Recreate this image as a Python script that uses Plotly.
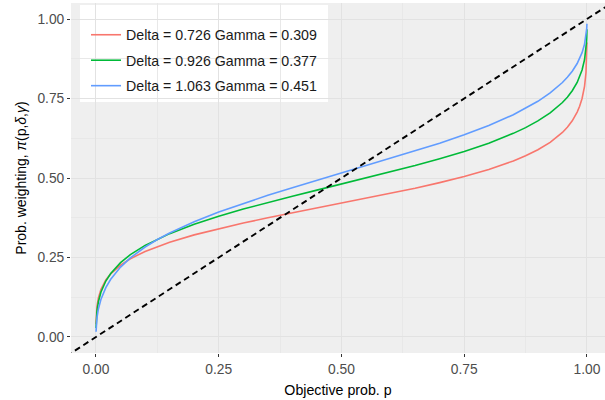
import plotly.graph_objects as go

# Objective probabilities (x) at which the curves were read
p = [0.0001, 0.0005, 0.001, 0.002, 0.005, 0.01, 0.02, 0.03, 0.05, 0.07, 0.1, 0.125,
     0.15, 0.2, 0.25, 0.3, 0.35, 0.4, 0.45, 0.5, 0.55, 0.6, 0.65, 0.7, 0.75, 0.8,
     0.85, 0.875, 0.9, 0.925, 0.95, 0.96, 0.97, 0.98, 0.985, 0.99, 0.995, 0.998,
     0.999, 0.9995, 0.9999]

# Weighted probabilities
w_red = [0.0405, 0.0648, 0.0791, 0.0962, 0.1239, 0.1493, 0.1790, 0.1987, 0.2262,
         0.2461, 0.2691, 0.2847, 0.2981, 0.3211, 0.3408, 0.3584, 0.3748, 0.3904,
         0.4056, 0.4206, 0.4358, 0.4514, 0.4678, 0.4854, 0.5048, 0.5270, 0.5537,
         0.5699, 0.5887, 0.6121, 0.6433, 0.6597, 0.6800, 0.7073, 0.7257, 0.7502,
         0.7884, 0.8319, 0.8598, 0.8837, 0.9259]
w_green = [0.0279, 0.0501, 0.0641, 0.0817, 0.1118, 0.1407, 0.1759, 0.1998, 0.2338,
           0.2588, 0.2880, 0.3078, 0.3250, 0.3545, 0.3797, 0.4022, 0.4231, 0.4428,
           0.4619, 0.4808, 0.4997, 0.5190, 0.5391, 0.5604, 0.5835, 0.6096, 0.6404,
           0.6585, 0.6795, 0.7048, 0.7375, 0.7542, 0.7745, 0.8006, 0.8177, 0.8397,
           0.8720, 0.9060, 0.9260, 0.9421, 0.9676]
w_blue = [0.0164, 0.0334, 0.0450, 0.0606, 0.0890, 0.1180, 0.1552, 0.1815, 0.2198,
          0.2487, 0.2830, 0.3065, 0.3271, 0.3626, 0.3931, 0.4205, 0.4457, 0.4696,
          0.4927, 0.5153, 0.5379, 0.5607, 0.5843, 0.6090, 0.6357, 0.6652, 0.6991,
          0.7189, 0.7412, 0.7675, 0.8004, 0.8167, 0.8360, 0.8601, 0.8753, 0.8941,
          0.9205, 0.9460, 0.9599, 0.9704, 0.9854]

series_names = ["Delta = 0.726 Gamma = 0.309",
                "Delta = 0.926 Gamma = 0.377",
                "Delta = 1.063 Gamma = 0.451"]
series_values = [w_red, w_green, w_blue]
colors = ["#F8766D", "#00BA38", "#619CFF"]

diag = [-0.06, 1.06]
tick_vals = [0, 0.25, 0.5, 0.75, 1.0]
tick_text = ["0.00", "0.25", "0.50", "0.75", "1.00"]
minor_vals = [0.125, 0.375, 0.625, 0.875]

FONT = "Liberation Sans, Arial, sans-serif"

fig = go.Figure()
for name, vals, col in zip(series_names, series_values, colors):
    fig.add_trace(go.Scatter(x=p, y=vals, mode="lines", name=name,
                             legendgroup=name,
                             line=dict(color=col, width=1.6)))
fig.add_trace(go.Scatter(x=diag, y=diag, mode="lines", showlegend=False,
                         line=dict(color="black", width=1.9, dash="6px,4px")))

# white legend box
fig.add_shape(type="rect", xref="paper", yref="paper",
              x0=(80 - 71) / 534, x1=(328 - 71) / 534,
              y0=(352.7 - 102) / 349.7, y1=(352.7 - 5) / 349.7,
              fillcolor="white", line=dict(width=0), layer="between")

axis_common = dict(
    tickvals=tick_vals, ticktext=tick_text, ticks="outside", ticklen=3,
    tickcolor="#333333", tickwidth=1, automargin=False,
    tickfont=dict(family=FONT, size=13.8, color="#4D4D4D"),
    showgrid=True, gridcolor="#E2E2E2", gridwidth=1,
    minor=dict(tickvals=minor_vals, showgrid=True, gridcolor="#E8E8E8", gridwidth=0.6, ticks=""),
    zeroline=False, showline=False,
)

fig.update_layout(
    width=605, height=400,
    margin=dict(l=71, r=0, t=3, b=47, autoexpand=False),
    paper_bgcolor="white", plot_bgcolor="#EFEFEF",
    font=dict(family=FONT, color="black"),
    xaxis=dict(range=[-0.0509, 1.0367],
               title=dict(text="Objective prob. p", font=dict(size=14.2, color="black"), standoff=9),
               **axis_common),
    yaxis=dict(range=[-0.0504, 1.0504],
               title=dict(text="Prob. weighting, <i>π</i>(p,<i>δ</i>,<i>γ</i>)",
                          font=dict(size=14, color="black"), standoff=7),
               **axis_common),
    legend=dict(x=(86 - 71) / 534, y=(352.7 - 19) / 349.7, xanchor="left", yanchor="top",
                bgcolor="rgba(0,0,0,0)", borderwidth=0, tracegroupgap=4,
                traceorder="grouped",
                font=dict(family=FONT, size=14.2, color="#1A1A1A")),
    showlegend=True,
)

fig.write_html("out.html",
               config={"displayModeBar": False},
               post_script="document.body.style.margin='0';document.body.style.overflow='hidden';")
